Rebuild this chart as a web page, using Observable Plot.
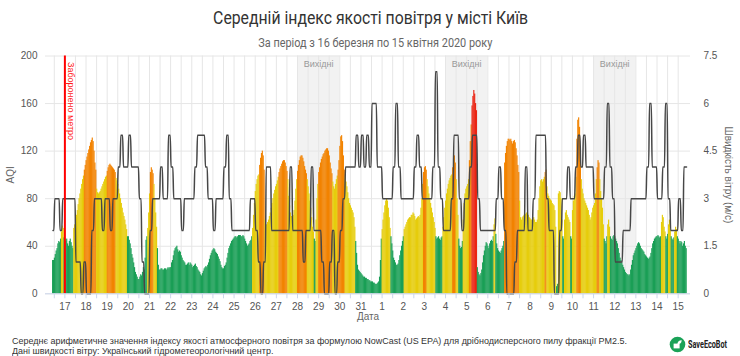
<!DOCTYPE html>
<html>
<head>
<meta charset="utf-8">
<script src="https://cdn.jsdelivr.net/npm/d3@7"></script>
<script src="https://cdn.jsdelivr.net/npm/@observablehq/plot@0.6"></script>
<style>
html, body { margin: 0; padding: 0; background: #fff; }
#wrap { position: relative; width: 740px; height: 356px; overflow: hidden; }
#chart { position: absolute; left: 0; top: 0; }
.line { position: absolute; white-space: nowrap; display: inline-block; }
#title { top: 7px; font: 18px "Roboto", sans-serif; color: #333; transform-origin: 50% 50%; }
#subtitle { top: 35px; font: 12.5px "Roboto", sans-serif; color: #666; transform-origin: 50% 50%; }
#cap1, #cap2 { left: 12px; font: 8.8px "Liberation Sans", "Open Sans", sans-serif; line-height: 10px; height: 10px; color: #333; transform-origin: 0 50%; }
#cap1 { top: 336px; }
#cap2 { top: 346px; }
#logo { position: absolute; left: 669px; top: 336px; width: 17px; height: 17px; }
#logotext { top: 337px; left: 688px; font: bold 11.5px "Roboto", sans-serif; color: #222; transform-origin: 0 50%; }
</style>
</head>
<body>
<div id="wrap">
  <div id="chart"></div>
  <span class="line" id="title"></span>
  <span class="line" id="subtitle"></span>
  <span class="line" id="cap1"></span>
  <span class="line" id="cap2"></span>
  <svg id="logo" viewBox="0 0 17 17">
    <circle cx="8.5" cy="8.5" r="7.8" fill="#1aa257"/>
    <rect x="4.6" y="7.6" width="6" height="4.8" fill="#fff"/>
    <path d="M8.4 8.1 C8.5 5.4 10.3 4.1 12.7 4.2 C12.7 6.7 11.1 8.1 8.4 8.1 Z" fill="#fff"/>
  </svg>
  <span class="line" id="logotext"></span>
</div>
<script>
// ---------- texts ----------
const titleText = "Середній індекс якості повітря у місті Київ";
const subtitleText = "За період з 16 березня по 15 квітня 2020 року";
const captionLines = [
  "Середнє арифметичне значення індексу якості атмосферного повітря за формулою NowCast (US EPA) для дрібнодисперсного пилу фракції PM2.5.",
  "Дані швидкості вітру: Український гідрометеорологічний центр."
];
const logoText = "SaveEcoBot";
const yLabel = "AQI";
const y2Label = "Швидкість вітру (м/с)";
const xLabel = "Дата";
const metroLabel = "Заборонено метро";
const weekendLabel = "Вихідні";

// ---------- axes ----------
const yTicks = [0, 40, 80, 120, 160, 200];
const windTickLabels = ["0", "1.5", "3", "4.5", "6", "7.5"];
const windMax = 7.5;

// ---------- events ----------
const metroDate = "2020-03-17T00:00Z";
const weekendStarts = ["2020-03-28", "2020-04-04", "2020-04-11"];

// ---------- hourly AQI (PM2.5 NowCast), from 16 March 10:00 ----------
const aqiMarch = [
  // 16 (10:00-23:00)
  28,28,30,33,36,38,42,44,43,46,52,57,55,47,
  // 17
  46,44,46,42,40,44,46,43,40,38,55,58,62,66,70,75,80,84,88,92,96,99,104,108,
  // 18
  112,115,118,121,124,127,129,131,128,120,110,104,88,85,84,85,86,88,90,92,94,96,98,99,
  // 19
  103,106,108,109,108,107,106,105,104,102,97,95,92,88,84,80,76,72,68,65,62,58,54,48,
  // 20
  48,45,42,38,33,30,26,22,18,16,14,12,12,14,16,15,18,22,20,30,45,48,55,68,
  // 21
  84,102,106,104,101,92,80,68,56,38,24,20,20,21,21,20,20,21,21,20,21,22,21,22,
  // 22
  22,26,28,32,36,38,39,40,37,35,36,35,32,30,28,27,26,24,24,25,26,24,26,25,
  // 23
  24,22,23,24,25,23,22,20,19,18,16,15,17,19,21,22,23,22,24,26,29,32,34,36,
  // 24
  37,38,37,35,34,33,31,29,27,24,22,21,21,23,24,26,30,34,38,40,42,44,45,46,
  // 25
  47,48,48,47,48,49,49,49,48,48,49,48,46,44,42,40,41,42,44,45,48,55,66,76,
  // 26
  86,92,96,99,100,108,114,118,120,116,104,62,58,58,60,62,65,68,72,76,80,84,87,90,
  // 27
  92,95,98,102,105,107,109,111,112,112,110,107,103,96,82,74,68,65,64,66,70,78,88,96,
  // 28
  103,108,112,115,116,116,114,111,107,104,101,96,90,84,78,72,64,56,52,46,44,62,80,92,
  // 29
  102,106,110,113,115,117,118,120,121,122,122,120,116,110,105,101,94,90,88,92,96,99,104,112,
  // 30
  124,132,133,128,116,104,98,94,90,85,80,76,74,72,70,68,64,56,44,34,24,20,19,18,
  // 31
  17,16,15,14,14,13,13,12,12,11,11,10,10,10,9,9,8,8,8,9,10,14,28,46
];
const aqiApril = [
  // 1
  54,62,68,74,78,80,78,72,64,55,48,42,36,30,28,26,24,24,25,28,32,36,40,44,
  // 2
  48,54,56,58,60,62,63,64,64,66,66,68,67,65,62,63,64,65,64,66,72,80,92,102,
  // 3
  106,107,104,96,90,84,80,76,72,68,64,60,55,48,46,47,48,46,45,47,48,56,64,72,
  // 4
  78,84,88,92,95,97,99,100,106,114,116,110,96,80,66,46,40,38,39,44,62,76,84,88,
  // 5
  90,92,96,112,128,142,158,166,171,168,160,154,22,18,16,15,17,20,26,32,36,40,43,42,
  // 6
  40,38,42,44,45,44,48,58,63,50,42,38,36,35,34,36,38,40,44,110,118,124,128,130,
  // 7
  130,129,130,128,126,128,129,127,122,116,108,102,78,64,62,64,65,66,66,67,68,67,66,64,
  // 8
  63,62,62,63,64,62,60,60,62,70,80,90,95,96,94,96,98,102,104,90,84,82,80,79,
  // 9
  78,76,75,74,70,56,6,8,84,86,85,80,62,48,46,62,68,70,66,64,62,60,48,46,
  // 10
  70,78,82,84,98,130,146,148,140,112,96,88,84,80,78,76,74,72,70,66,62,64,68,72,
  // 11
  74,76,84,96,106,112,110,96,86,80,72,58,46,44,42,48,58,62,56,48,46,45,48,49,
  // 12
  48,46,44,42,38,34,30,28,26,24,22,20,18,17,16,16,15,16,20,24,28,32,34,36,
  // 13
  38,40,42,43,42,40,38,37,36,35,33,32,31,30,29,30,31,34,38,42,44,46,47,48,
  // 14
  48,49,48,47,48,60,66,64,56,52,48,46,50,58,62,54,48,46,45,47,52,56,54,48,
  // 15 (00:00-09:00)
  46,44,42,44,43,40,42,44,40,38
];

// ---------- wind speed, m/s, 3-hourly observations from 16 March 09:00 ----------
const windMarch = [
  2,3,3,2,3,          // 16
  3,3,3,3,1,1,0,1,    // 17
  0,0,2,3,3,3,2,3,    // 18
  3,2,3,3,4,5,4,4,    // 19
  5,4,4,4,3,1,0,0,    // 20
  2,3,3,3,4,3,3,5,    // 21
  4,3,3,3,2,3,3,3,    // 22
  3,4,5,5,5,4,3,3,    // 23
  2,3,3,3,4,5,3,2,    // 24
  2,2,2,2,2,2,3,3,    // 25
  2,1,0,1,4,4,2,2,    // 26
  2,2,2,2,2,4,2,2,    // 27
  2,2,1,2,2,4,2,2,    // 28
  2,1,0,0,1,2,0,1,    // 29
  2,3,4,4,4,4,5,4,    // 30
  5,4,5,4,6,6,4,4     // 31
];
const windApril = [
  3,3,3,3,4,6,4,3,    // 1
  3,3,3,3,4,5,4,3,    // 2
  3,3,3,4,7,4,3,2,    // 3
  2,2,3,5,5,3,2,3,    // 4
  3,4,5,5,3,2,2,2,    // 5
  2,2,2,3,4,3,2,0,    // 6
  0,0,1,2,2,2,4,2,    // 7
  2,3,5,5,5,5,3,2,    // 8
  2,0,0,2,3,3,4,3,    // 9
  3,4,5,4,5,4,4,4,    // 10
  3,3,3,3,4,6,4,3,    // 11
  1,1,1,2,2,2,3,3,    // 12
  3,3,3,3,4,6,4,4,    // 13
  3,3,4,6,3,2,2,2,    // 14
  3,2,4,4             // 15
];

// ---------- AQI category colours ----------
const aqiBreaks = [50.5, 100.5, 150.5];
const aqiColors = ["#1a9f56", "#e6cd0c", "#f28300", "#ea2514"];

// ---------- build ----------
const HOUR = 3600e3;
const start = Date.UTC(2020, 2, 16, 10);
const aqi = aqiMarch.concat(aqiApril);
const wind = windMarch.concat(windApril);
const bars = aqi.map((v, i) => ({t1: new Date(start + i * HOUR), t2: new Date(start + (i + 1.3) * HOUR), v}));
const windPts = aqi.map((_, i) => ({t: new Date(start + (i + 0.5) * HOUR), w: wind[Math.floor((i + 1) / 3)]}));
const windToY = yTicks[yTicks.length - 1] / windMax;
const weekends = weekendStarts.map(s => {
  const a = new Date(s + "T00:00Z");
  return {from: a, to: d3.utcDay.offset(a, 2), mid: d3.utcDay.offset(a, 1)};
});
const xStart = new Date(Date.UTC(2020, 2, 16, 2));
const xEnd = new Date(Date.UTC(2020, 3, 15, 14));
const grid12 = d3.utcHour.every(12).range(new Date(Date.UTC(2020, 2, 16, 12)), new Date(Date.UTC(2020, 3, 15, 1)));
const dayTicks = d3.utcDay.range(new Date(Date.UTC(2020, 2, 17)), new Date(Date.UTC(2020, 3, 15, 1)));

const H = 328;
const axisFont = "'Liberation Sans', 'DejaVu Sans', sans-serif";
const chart = Plot.plot({
  width: 740,
  height: H,
  marginTop: 55.5,
  marginBottom: H - 293.3,
  marginLeft: 45,
  marginRight: 50,
  style: {fontFamily: axisFont, fontSize: "10px", color: "#666", background: "transparent"},
  x: {type: "utc", domain: [xStart, xEnd]},
  y: {domain: [0, 200]},
  color: {type: "threshold", domain: aqiBreaks, range: aqiColors},
  marks: [
    Plot.rect(weekends, {x1: "from", x2: "to", fill: "#f2f2f2"}),
    Plot.ruleX(grid12, {stroke: "#e6e6e6", strokeWidth: 1}),
    Plot.ruleY(yTicks, {stroke: "#e6e6e6", strokeWidth: 1}),
    Plot.rectY(bars, {x1: "t1", x2: "t2", y: "v", fill: "v"}),
    Plot.line(windPts, {x: "t", y: d => d.w * windToY, curve: "monotone-x", stroke: "#474747", strokeWidth: 1.5}),
    Plot.ruleX([{t: new Date(metroDate)}], {x: "t", stroke: "#ff0000", strokeWidth: 2}),
    Plot.text([{t: new Date(metroDate), label: metroLabel}], {x: "t", text: "label", frameAnchor: "top", dx: 6, dy: 6, rotate: 90, textAnchor: "start", lineAnchor: "middle", fill: "#ff1a1a", fontSize: 9}),
    Plot.text(weekends, {x: "mid", text: () => weekendLabel, frameAnchor: "top", dy: 8, textAnchor: "middle", lineAnchor: "middle", fill: "#999", fontSize: 9}),
    Plot.ruleY([0], {stroke: "#ccd6eb"}),
    Plot.axisX({ticks: grid12, tickSize: 5, tickFormat: () => "", stroke: "#ccd6eb", label: null}),
    Plot.axisX({ticks: dayTicks, tickSize: 0, tickPadding: 9, tickFormat: d => String(d.getUTCDate()), fill: "#555", fontSize: 10, label: null}),
    Plot.axisY({anchor: "left", ticks: yTicks, tickSize: 0, tickPadding: 8, fill: "#555", fontSize: 10, label: null}),
    Plot.axisY({anchor: "right", ticks: yTicks, tickSize: 0, tickPadding: 13, tickFormat: d => windTickLabels[yTicks.indexOf(d)], fill: "#555", fontSize: 10, label: null}),
    Plot.text([xLabel], {frameAnchor: "bottom", dy: 23, textAnchor: "middle", lineAnchor: "middle", fill: "#666", fontSize: 10}),
    Plot.text([yLabel], {frameAnchor: "left", dx: -35, rotate: -90, textAnchor: "middle", lineAnchor: "middle", fill: "#666", fontSize: 10}),
    Plot.text([y2Label], {frameAnchor: "right", dx: 38, rotate: 90, textAnchor: "middle", lineAnchor: "middle", fill: "#666", fontSize: 10})
  ]
});
document.getElementById("chart").appendChild(chart);

// ---------- texts outside the plot, fitted to the reference widths ----------
function place(id, text, targetWidth, centerX, left) {
  const el = document.getElementById(id);
  el.textContent = text;
  const w = el.getBoundingClientRect().width;
  const s = targetWidth ? targetWidth / w : 1;
  if (centerX != null) el.style.left = (centerX - w / 2) + "px";
  if (left != null) el.style.left = left + "px";
  el.style.transform = "scaleX(" + s + ")";
  return s;
}
place("title", titleText, 315, 370.5);
place("subtitle", subtitleText, 234, 375);
const capScale = place("cap1", captionLines[0], 615, null, 12);
const cap2 = document.getElementById("cap2");
cap2.textContent = captionLines[1];
cap2.style.transform = "scaleX(" + capScale + ")";
place("logotext", logoText, 39, null, 688);
</script>
</body>
</html>
